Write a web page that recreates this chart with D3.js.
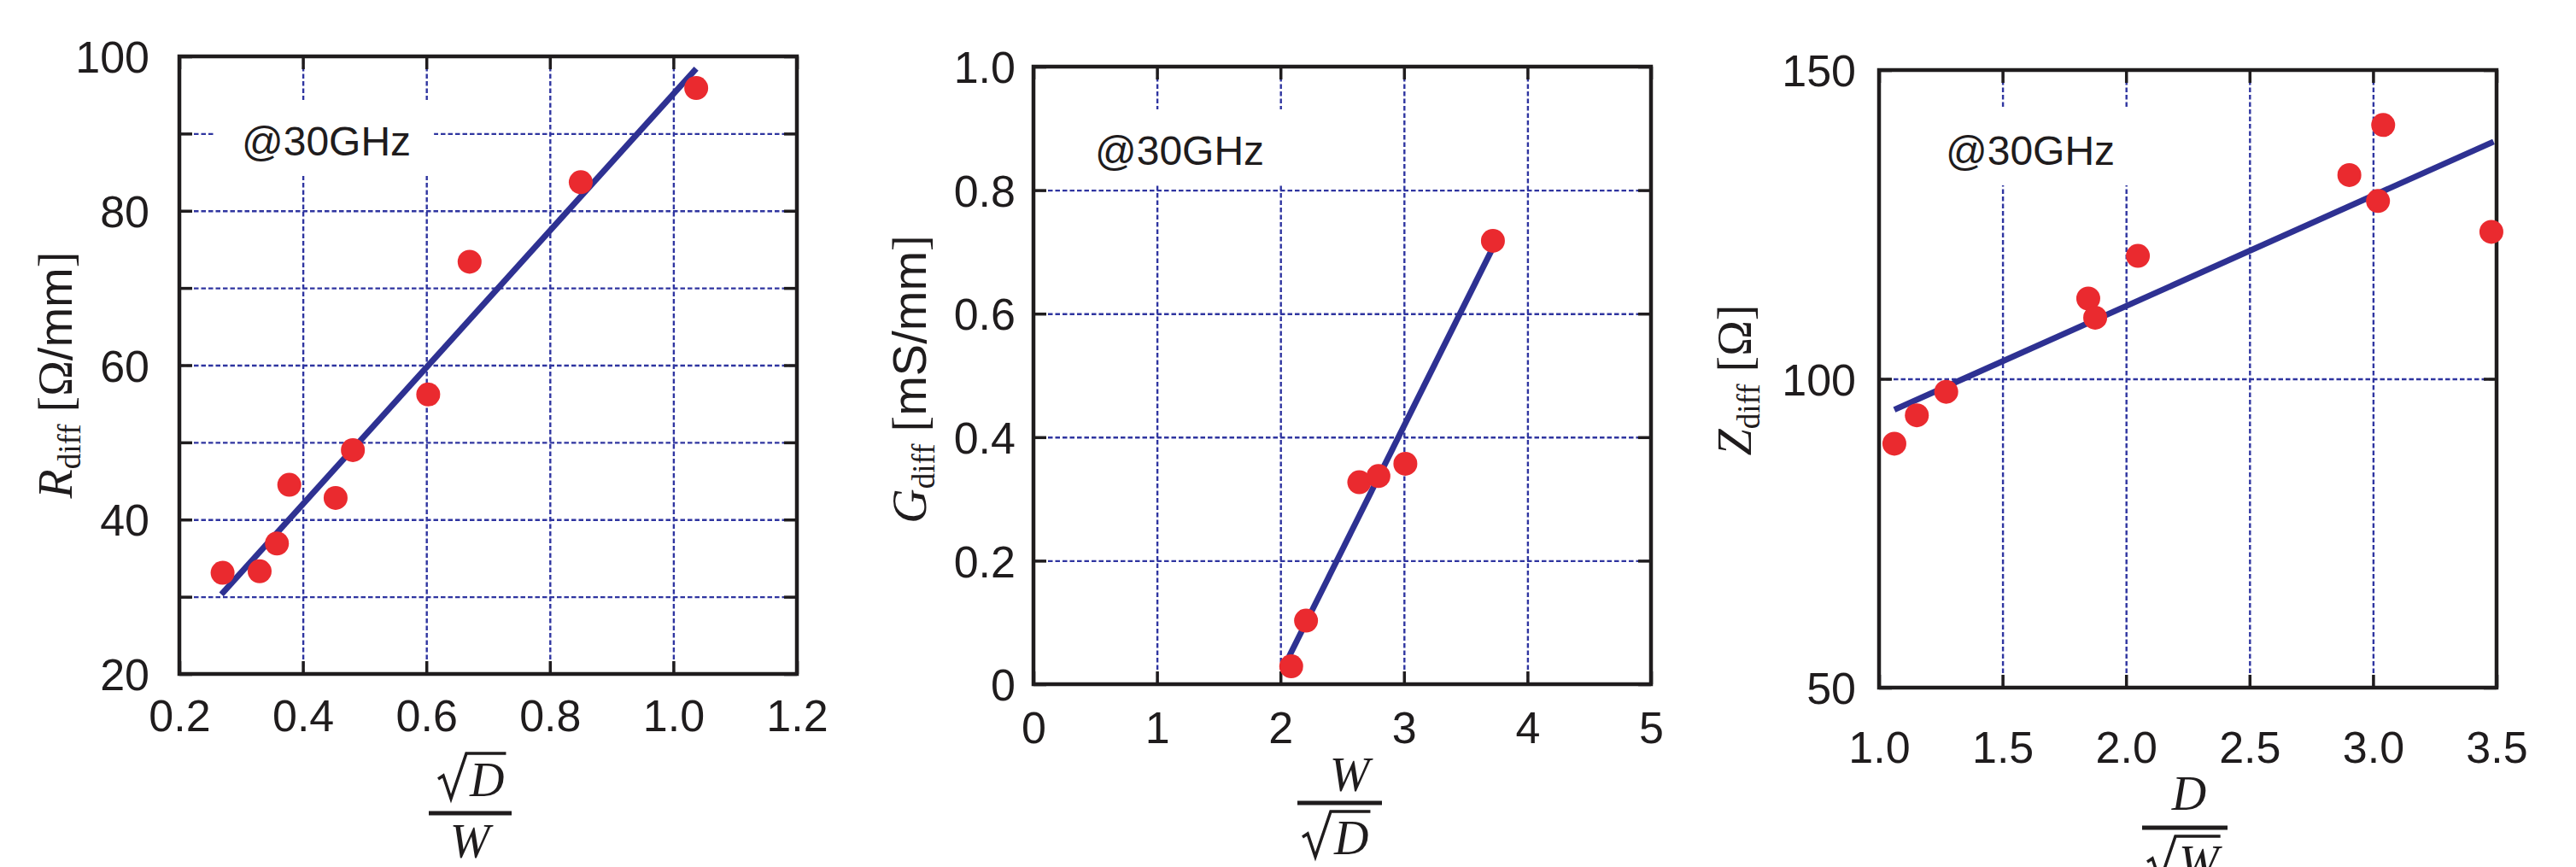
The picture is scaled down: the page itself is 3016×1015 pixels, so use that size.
<!DOCTYPE html>
<html><head><meta charset="utf-8">
<script src="https://cdn.jsdelivr.net/npm/d3@7"></script>
<style>body{margin:0;background:#fff}</style>
</head><body>
<svg id="c" width="3016" height="1015" xmlns="http://www.w3.org/2000/svg"></svg>
<script>
// ---------- data ----------
const rX = [0.270, 0.330, 0.358, 0.378, 0.453, 0.481, 0.603, 0.670, 0.850, 1.037];
const rY = [33.1, 33.3, 36.9, 44.5, 42.8, 49.0, 56.2, 73.4, 83.7, 95.9];
const rFitX = [0.268, 1.037];
const rFitY = [30.3, 98.4];

const gX = [2.087, 2.207, 2.638, 2.793, 3.011, 3.720];
const gY = [0.029, 0.103, 0.327, 0.337, 0.357, 0.718];
const gFitX = [2.07, 3.72];
const gFitY = [0.045, 0.707];

const zX = [1.062, 1.153, 1.272, 1.847, 1.875, 2.048, 2.904, 3.041, 3.020, 3.479];
const zY = [89.5, 94.1, 97.9, 113.0, 109.9, 119.9, 133.0, 141.1, 128.8, 123.8];
const zFitX = [1.062, 3.488];
const zFitY = [95.0, 138.4];

const rXTicks = [0.2, 0.4, 0.6, 0.8, 1.0, 1.2];
const rXTickLabels = ["0.2", "0.4", "0.6", "0.8", "1.0", "1.2"];
const rYGrid = [20, 30, 40, 50, 60, 70, 80, 90, 100];
const rYTicks = [20, 40, 60, 80, 100];
const rYTickLabels = ["20", "40", "60", "80", "100"];

const gXTicks = [0, 1, 2, 3, 4, 5];
const gXTickLabels = ["0", "1", "2", "3", "4", "5"];
const gYGrid = [0, 0.2, 0.4, 0.6, 0.8, 1.0];
const gYTicks = [0, 0.2, 0.4, 0.6, 0.8, 1.0];
const gYTickLabels = ["0", "0.2", "0.4", "0.6", "0.8", "1.0"];

const zXTicks = [1.0, 1.5, 2.0, 2.5, 3.0, 3.5];
const zXTickLabels = ["1.0", "1.5", "2.0", "2.5", "3.0", "3.5"];
const zYGrid = [50, 100, 150];
const zYTicks = [50, 100, 150];
const zYTickLabels = ["50", "100", "150"];

const annotation = "@30GHz";

// ---------- style ----------
const SANS = "'Liberation Sans', Arial, Helvetica, sans-serif";
const SERIF = "'Liberation Serif', 'Times New Roman', serif";
const GRID = "#2f35a0";
const LINE = "#2e3192";
const DOT = "#ea2a2f";
const INK = "#1f1c1d";

const svg = d3.select("#c");
svg.append("rect").attr("width", 3016).attr("height", 1015).attr("fill", "#fff");

function panel(cfg) {
  const S = 723;
  const g = svg.append("g").attr("transform", `translate(${cfg.left},${cfg.top})`);
  const x = d3.scaleLinear().domain(cfg.xDomain).range([0, S]);
  const y = d3.scaleLinear().domain(cfg.yDomain).range([S, 0]);

  // grid
  const gx = g.append("g").attr("transform", `translate(0,${S})`)
    .call(d3.axisBottom(x).tickValues(cfg.xGrid).tickSize(-S).tickFormat(""));
  const gy = g.append("g")
    .call(d3.axisLeft(y).tickValues(cfg.yGrid).tickSize(-S).tickFormat(""));
  [gx, gy].forEach(a => {
    a.select(".domain").remove();
    a.selectAll("text").remove();
    a.selectAll("line").attr("stroke", GRID).attr("stroke-width", 2.4).attr("stroke-dasharray", "5.5,3");
  });

  // annotation box + text
  const boxG = g.append("g");
  const t = g.append("text").attr("x", cfg.annX).attr("y", cfg.annY)
    .attr("font-family", SANS).attr("font-size", 48).attr("fill", INK).text(annotation);
  const bb = t.node().getBBox();
  boxG.append("rect").attr("x", bb.x - 33).attr("y", bb.y - 22)
    .attr("width", bb.width + 60).attr("height", bb.height + 36).attr("fill", "#fff");

  // inward ticks on four sides
  const tk = 15;
  const axes = [
    [d3.axisBottom(x).tickValues(cfg.xGrid), `translate(0,${S})`],
    [d3.axisTop(x).tickValues(cfg.xGrid), `translate(0,0)`],
    [d3.axisLeft(y).tickValues(cfg.yGrid), `translate(0,0)`],
    [d3.axisRight(y).tickValues(cfg.yGrid), `translate(${S},0)`]
  ];
  axes.forEach(([ax, tr]) => {
    const a = g.append("g").attr("transform", tr).call(ax.tickSize(-tk).tickFormat(""));
    a.select(".domain").remove();
    a.selectAll("text").remove();
    a.selectAll("line").attr("stroke", INK).attr("stroke-width", 3.5);
  });

  // frame
  g.append("rect").attr("width", S).attr("height", S).attr("fill", "none")
    .attr("stroke", INK).attr("stroke-width", 4.5);

  // tick labels
  const xl = g.append("g").attr("transform", `translate(0,${S})`)
    .call(d3.axisBottom(x).tickValues(cfg.xTicks).tickSize(0)
      .tickFormat((d, i) => cfg.xTickLabels[i]));
  xl.select(".domain").remove();
  xl.selectAll("text").attr("y", cfg.xLabOff).attr("dy", 0)
    .attr("font-family", SANS).attr("font-size", 52).attr("fill", INK);

  const yl = g.append("g")
    .call(d3.axisLeft(y).tickValues(cfg.yTicks).tickSize(0)
      .tickFormat((d, i) => cfg.yTickLabels[i]));
  yl.select(".domain").remove();
  yl.selectAll("text").attr("x", -cfg.yLabOff).attr("dy", "0.36em")
    .attr("font-family", SANS).attr("font-size", 52).attr("fill", INK);

  // fit line
  const fit = cfg.fitX.map((v, i) => [v, cfg.fitY[i]]);
  g.append("path").datum(fit)
    .attr("d", d3.line().x(d => x(d[0])).y(d => y(d[1])))
    .attr("stroke", LINE).attr("stroke-width", 7).attr("fill", "none");

  // points
  const pts = cfg.px.map((v, i) => [v, cfg.py[i]]);
  g.selectAll("circle.pt").data(pts).enter().append("circle")
    .attr("class", "pt")
    .attr("cx", d => x(d[0])).attr("cy", d => y(d[1])).attr("r", 14).attr("fill", DOT);

  // y axis title
  const yt = svg.append("text")
    .attr("transform", `translate(${cfg.yTitle[0]},${cfg.yTitle[1]}) rotate(-90)`)
    .attr("text-anchor", "middle").attr("fill", INK).attr("font-size", 56);
  cfg.yTitleParts.forEach(p => {
    const s = yt.append("tspan").text(p.t)
      .attr("font-family", p.serif ? SERIF : SANS);
    if (p.italic) s.attr("font-style", "italic");
    if (p.size) s.attr("font-size", p.size);
    if (p.dy) s.attr("dy", p.dy);
  });
}

function radical(x0, yb, letter) {
  const t = svg.append("text").attr("x", x0 + 37).attr("y", yb)
    .attr("font-family", SERIF).attr("font-style", "italic").attr("font-size", 56)
    .attr("fill", INK).text(letter);
  const w = t.node().getComputedTextLength();
  svg.append("path")
    .attr("d", `M${x0},${yb - 20} L${x0 + 6},${yb - 24} L${x0 + 15},${yb + 3} L${x0 + 33},${yb - 50} L${x0 + 39 + w},${yb - 50}`)
    .attr("stroke", INK).attr("stroke-width", 3.5).attr("fill", "none").attr("stroke-linejoin", "miter");
}
function italic(cx, yb, letter) {
  svg.append("text").attr("x", cx).attr("y", yb).attr("text-anchor", "middle")
    .attr("font-family", SERIF).attr("font-style", "italic").attr("font-size", 56)
    .attr("fill", INK).text(letter);
}
function bar(x1, x2, yy) {
  svg.append("line").attr("x1", x1).attr("x2", x2).attr("y1", yy).attr("y2", yy)
    .attr("stroke", INK).attr("stroke-width", 5);
}

panel({
  left: 210, top: 66, xDomain: [0.2, 1.2], yDomain: [20, 100],
  xGrid: rXTicks, yGrid: rYGrid, xTicks: rXTicks, xTickLabels: rXTickLabels,
  yTicks: rYTicks, yTickLabels: rYTickLabels, xLabOff: 67, yLabOff: 35,
  annX: 73, annY: 116, fitX: rFitX, fitY: rFitY, px: rX, py: rY,
  yTitle: [84, 439],
  yTitleParts: [
    { t: "R", serif: true, italic: true },
    { t: "diff", serif: true, size: 37, dy: 10 },
    { t: " [Ω", serif: true, dy: -10 },
    { t: "/mm", serif: false },
    { t: "]", serif: true }
  ]
});
panel({
  left: 1210, top: 78, xDomain: [0, 5], yDomain: [0, 1],
  xGrid: gXTicks, yGrid: gYGrid, xTicks: gXTicks, xTickLabels: gXTickLabels,
  yTicks: gYTicks, yTickLabels: gYTickLabels, xLabOff: 69, yLabOff: 21,
  annX: 72, annY: 115, fitX: gFitX, fitY: gFitY, px: gX, py: gY,
  yTitle: [1084, 444],
  yTitleParts: [
    { t: "G", serif: true, italic: true },
    { t: "diff", serif: true, size: 37, dy: 10 },
    { t: " [", serif: true, dy: -10 },
    { t: "mS/mm", serif: false },
    { t: "]", serif: true }
  ]
});
panel({
  left: 2200, top: 82, xDomain: [1.0, 3.5], yDomain: [50, 150],
  xGrid: zXTicks, yGrid: zYGrid, xTicks: zXTicks, xTickLabels: zXTickLabels,
  yTicks: zYTicks, yTickLabels: zYTickLabels, xLabOff: 88, yLabOff: 27,
  annX: 78, annY: 111, fitX: zFitX, fitY: zFitY, px: zX, py: zY,
  yTitle: [2050, 445],
  yTitleParts: [
    { t: "Z", serif: true, italic: true },
    { t: "diff", serif: true, size: 37, dy: 10 },
    { t: " [Ω]", serif: true, dy: -10 }
  ]
});

// x-axis fraction titles
radical(513, 932, "D"); bar(502, 599, 952); italic(550, 1004, "W");
italic(1580, 926, "W"); bar(1519, 1618, 940); radical(1525, 1000, "D");
italic(2563, 948, "D"); bar(2508, 2608, 969); radical(2514, 1029, "W");
</script>
</body></html>
